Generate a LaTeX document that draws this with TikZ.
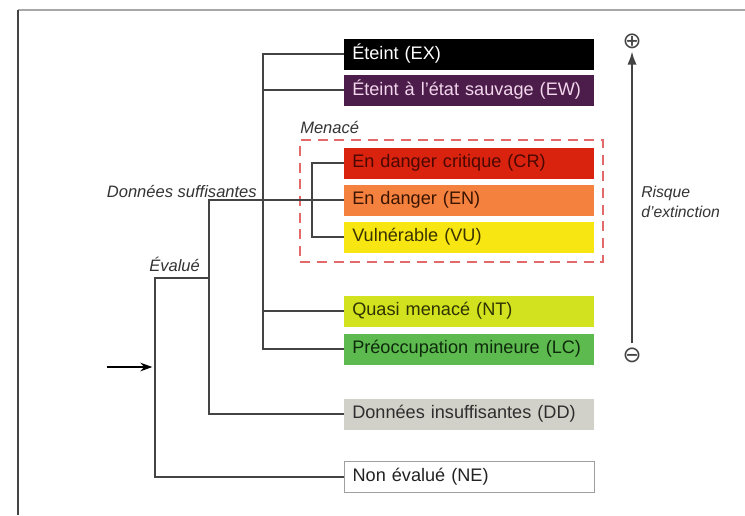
\documentclass[tikz,border=0pt]{standalone}
\usepackage{fontspec}
\setmainfont{Liberation Sans}
\newfontfamily\symfont{DejaVu Sans}
\usetikzlibrary{arrows.meta}

% category colours (fill / text)
\definecolor{exfill}{HTML}{000000}\definecolor{extext}{HTML}{FFFFFF}
\definecolor{ewfill}{HTML}{4C1D4B}\definecolor{ewtext}{HTML}{F2D6EC}
\definecolor{crfill}{HTML}{D9230F}\definecolor{crtext}{HTML}{4A0800}
\definecolor{enfill}{HTML}{F5813F}\definecolor{entext}{HTML}{3A1500}
\definecolor{vufill}{HTML}{F7E612}\definecolor{vutext}{HTML}{3A3300}
\definecolor{ntfill}{HTML}{D2E21F}\definecolor{nttext}{HTML}{2E3300}
\definecolor{lcfill}{HTML}{5DBA4E}\definecolor{lctext}{HTML}{0E2A0C}
\definecolor{ddfill}{HTML}{D1D0C9}\definecolor{ddtext}{HTML}{2E2E2E}
\definecolor{netext}{HTML}{222222}
\definecolor{linegray}{HTML}{444444}
\definecolor{labelgray}{HTML}{333333}
\definecolor{dashred}{HTML}{E36A6A}
\definecolor{framegray}{HTML}{A8A8A8}

\newcommand{\boxlabel}[1]{\mbox{#1}}

\begin{document}
\begin{tikzpicture}[x=0.75pt,y=-0.75pt,
  catbox/.style={anchor=west, minimum width=187.5pt, text width=181.5pt,
    inner xsep=3pt, inner ysep=0pt, minimum height=23.25pt, align=left,
    font=\fontsize{13.6}{16}\selectfont},
  conn/.style={draw=linegray, line width=1.2pt},
  lbl/.style={font=\fontsize{12.4}{14}\selectfont\itshape, text=labelgray, inner sep=0pt},
  sign/.style={font=\symfont\fontsize{17}{17}\selectfont, text=linegray, inner sep=0pt}]
\useasboundingbox (0,0) rectangle (745,515);

% frame
\draw[framegray, line width=1.5pt] (18,10) -- (745,10);
\draw[linegray, line width=1.1pt] (18,10) -- (18,515);

% categories
\node[catbox, fill=exfill, text=extext] (EX) at (344,54) {\boxlabel{\hspace{3pt}Éteint (EX)}};
\node[catbox, fill=ewfill, text=ewtext] (EW) at (344,90) {\boxlabel{\hspace{3pt}Éteint à l'état sauvage (EW)}};
\node[catbox, fill=crfill, text=crtext] (CR) at (344,163) {\boxlabel{\hspace{3pt}En danger critique (CR)}};
\node[catbox, fill=enfill, text=entext] (EN) at (344,200) {\boxlabel{\hspace{3pt}En danger (EN)}};
\node[catbox, fill=vufill, text=vutext] (VU) at (344,237) {\boxlabel{\hspace{3pt}Vulnérable (VU)}};
\node[catbox, fill=ntfill, text=nttext] (NT) at (344,311) {\boxlabel{\hspace{3pt}Quasi menacé (NT)}};
\node[catbox, fill=lcfill, text=lctext] (LC) at (344,349) {\boxlabel{\hspace{3pt}Préoccupation mineure (LC)}};
\node[catbox, fill=ddfill, text=ddtext] (DD) at (344,414) {\boxlabel{\hspace{3pt}Données insuffisantes (DD)}};
\node[catbox, fill=white, draw=gray!75, line width=0.9pt, text=netext] (NE) at (344,477) {\boxlabel{\hspace{3pt}Non évalué (NE)}};

% threatened group
\node[draw=dashred, line width=1.1pt, dash pattern=on 7.5pt off 5pt,
      minimum width=227pt, minimum height=91.5pt, inner sep=0pt] (menace) at (451.5,201) {};
\node[lbl, anchor=base west] (menlbl) at (300,133) {Menacé};

% branch points
\coordinate (start) at (107,367);
\coordinate (evx) at (155,367);
\coordinate (ev) at (155,278);
\coordinate (ds) at (209,278);
\coordinate (sx) at (263,0);
\coordinate (mx) at (312,0);

% tree connectors
\draw[conn] (ds) -- (ev) |- (NE.west);
\draw[conn] (EN.west) -| (ds) |- (DD.west);
\draw[conn] (EX.west) -- (EX.west -| sx) -- (LC.west -| sx) -- (LC.west);
\draw[conn] (EW.west) -- (EW.west -| sx);
\draw[conn] (NT.west) -- (NT.west -| sx);
\draw[conn] (CR.west) -- (CR.west -| mx) -- (VU.west -| mx) -- (VU.west);
\draw[black, line width=1pt, -{Stealth[length=9pt,width=6.5pt]}] (start) -- ([xshift=-2pt]evx);

% branch labels
\node[lbl, anchor=base east] (dslbl) at (257,197) {Données suffisantes};
\node[lbl, anchor=base west] (evlbl) at (149,271) {Évalué};

% extinction risk scale
\node[sign] (plus) at (632,41) {⊕};
\node[sign] (minus) at (632,355) {⊖};
\draw[linegray, line width=1.5pt, shorten >=2pt, shorten <=3pt,
      -{Latex[length=10pt,width=7pt]}] (minus.north) -- (plus.south);
\node[lbl, anchor=base west, font=\fontsize{11.8}{14}\selectfont\itshape] (risk1) at (641,197) {Risque};
\node[lbl, anchor=base west, font=\fontsize{11.8}{14}\selectfont\itshape] (risk2) at (641,217) {d'extinction};
\end{tikzpicture}
\end{document}
